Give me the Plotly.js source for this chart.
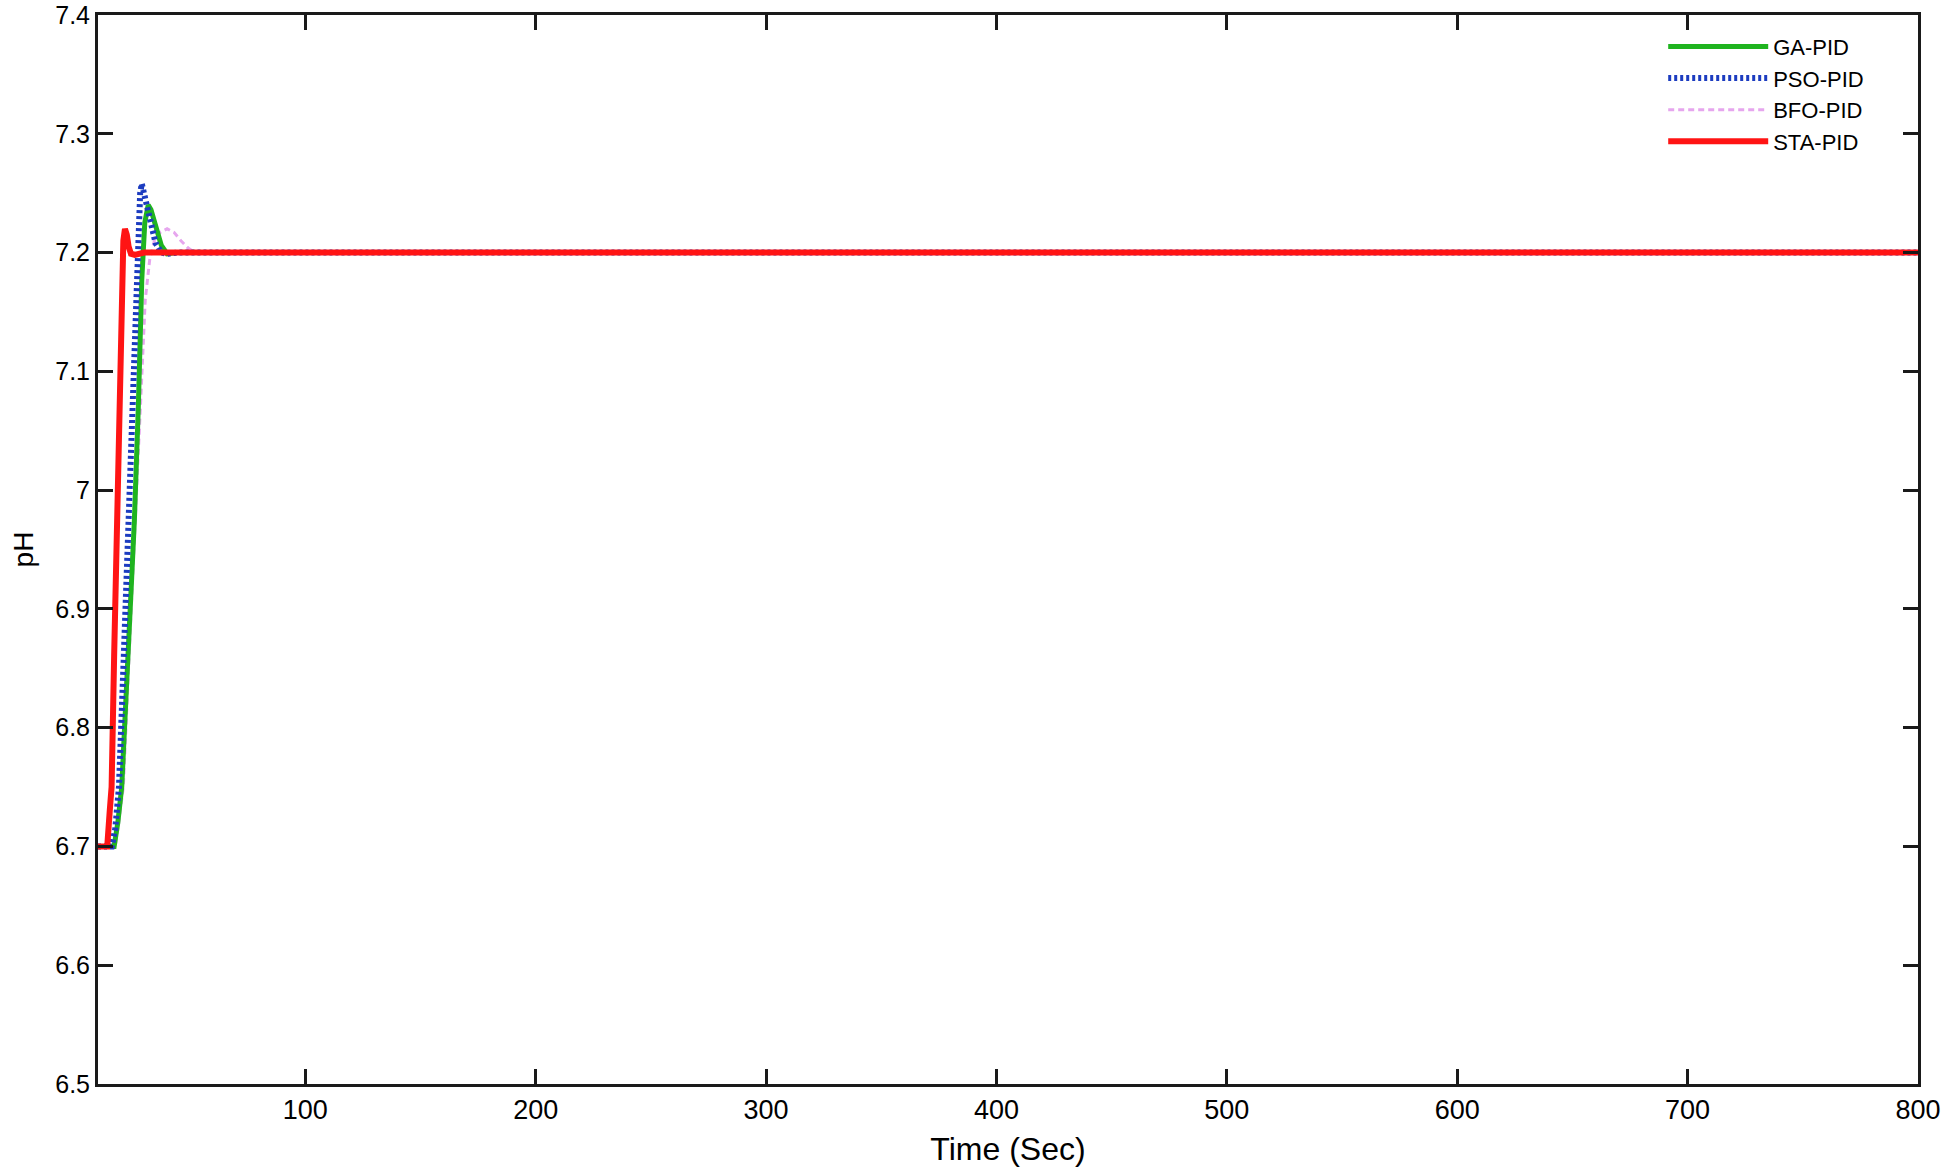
<!DOCTYPE html>
<html lang="en">
<head>
    <meta charset="UTF-8">
    <title>pH response - PID comparison</title>
    <script src="https://cdn.plot.ly/plotly-3.0.0.min.js" charset="utf-8"></script>
    <style>
        body {
            margin: 0;
            padding: 0;
            background: #ffffff;
        }

        #plot {
            width: 1950px;
            height: 1172px;
        }
    </style>
</head>
<body>
<div id="plot"></div>

<script>
    // Step responses (time in s, pH)
    const tGA  = [10, 17, 18.6, 20.3, 23, 25.8, 27.5, 29, 30.3, 31.8, 33, 35, 37.5, 40, 44, 800];
    const phGA = [6.70, 6.70, 6.72, 6.75, 6.86, 6.975, 7.07, 7.177, 7.225, 7.24, 7.236, 7.222, 7.206, 7.199, 7.2, 7.2];

    const tPSO  = [10, 16, 17.5, 19.1, 21.2, 23.2, 24.7, 26.5, 27.5, 28.3, 29, 30, 31.5, 33, 35, 37.5, 40, 45, 800];
    const phPSO = [6.70, 6.70, 6.715, 6.75, 6.86, 6.975, 7.07, 7.177, 7.225, 7.25, 7.258, 7.25, 7.237, 7.222, 7.208, 7.2, 7.199, 7.2, 7.2];

    const tBFO  = [10, 17.5, 19, 21, 23.5, 26.3, 28.3, 30.5, 32.5, 34.5, 37, 40, 43, 46, 49, 52, 800];
    const phBFO = [6.70, 6.70, 6.72, 6.75, 6.86, 6.975, 7.07, 7.16, 7.195, 7.21, 7.217, 7.22, 7.217, 7.21, 7.204, 7.2, 7.2];

    const tSTA  = [10, 14, 15.1, 15.9, 17.0, 18.3, 19.3, 20.3, 21.0, 21.7, 22.5, 23.3, 24.3, 26, 30, 800];
    const phSTA = [6.70, 6.70, 6.73, 6.75, 6.86, 6.97, 7.07, 7.177, 7.21, 7.22, 7.215, 7.205, 7.199, 7.198, 7.2, 7.2];

    const xTicks = [100, 200, 300, 400, 500, 600, 700, 800];

    const fontFamily = '"Liberation Sans", Arial, sans-serif';

    // BFO drawn first so the others sit on top of it, legend order kept with legendrank
    const traces = [
        {
            x: tBFO, y: phBFO, name: 'BFO-PID', mode: 'lines', legendrank: 3,
            line: {color: '#e6a6ee', width: 3, dash: '6px,4px'}
        },
        {
            x: tGA, y: phGA, name: 'GA-PID', mode: 'lines', legendrank: 1,
            line: {color: '#1fb41f', width: 5}
        },
        {
            x: tPSO, y: phPSO, name: 'PSO-PID', mode: 'lines', legendrank: 2,
            line: {color: '#1c3cc0', width: 6, dash: '3px,3px'}
        },
        {
            x: tSTA, y: phSTA, name: 'STA-PID', mode: 'lines', legendrank: 4,
            line: {color: '#ff1414', width: 6}
        }
    ];

    const axisCommon = {
        showgrid: false,
        zeroline: false,
        showline: true,
        linecolor: '#1a1a1a',
        linewidth: 3,
        mirror: 'ticks',
        ticks: 'inside',
        ticklen: 15,
        tickwidth: 3,
        tickcolor: '#1a1a1a',
        automargin: false
    };

    const layout = {
        width: 1950,
        height: 1172,
        paper_bgcolor: '#ffffff',
        plot_bgcolor: '#ffffff',
        font: {family: fontFamily, color: '#000000'},
        margin: {l: 98, r: 32, t: 15, b: 88, pad: 0},
        showlegend: true,
        legend: {
            x: 0.86,
            y: 0.99,
            xanchor: 'left',
            yanchor: 'top',
            bgcolor: 'rgba(0,0,0,0)',
            borderwidth: 0,
            itemwidth: 100,
            tracegroupgap: 0,
            font: {family: fontFamily, size: 22, color: '#000000'}
        },
        xaxis: Object.assign({}, axisCommon, {
            range: [10, 800],
            tickvals: xTicks,
            tickfont: {family: fontFamily, size: 27},
            title: {text: 'Time (Sec)', font: {family: fontFamily, size: 32}, standoff: 14}
        }),
        yaxis: Object.assign({}, axisCommon, {
            range: [6.5, 7.4],
            dtick: 0.1,
            tick0: 6.5,
            tickfont: {family: fontFamily, size: 25},
            title: {text: 'pH', font: {family: fontFamily, size: 28}, standoff: 14}
        })
    };

    Plotly.newPlot('plot', traces, layout, {displayModeBar: false, staticPlot: true});
</script>
</body>
</html>
